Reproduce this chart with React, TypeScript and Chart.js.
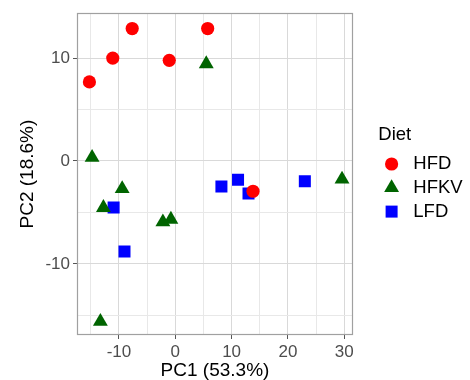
import React, { useEffect, useRef } from 'react';
import { Chart, registerables } from 'chart.js';

Chart.register(...registerables);

// ---- data ----
const groups = ['HFD', 'HFKV', 'LFD'];
const groupColors = ['#FF0000', '#006400', '#0000FF'];
const hfdPC1 = [-15.25, -11.1, -7.65, -1.07, 5.75, 13.8];
const hfdPC2 = [7.68, 10.0, 12.87, 9.78, 12.87, -2.94];
const hfkvPC1 = [5.5, -14.77, -9.43, -12.76, -2.2, -0.78, -13.3, 29.6];
const hfkvPC2 = [9.44, 0.34, -2.7, -4.54, -5.93, -5.67, -15.6, -1.78];
const lfdPC1 = [-10.95, -9.02, 8.19, 11.14, 13.0, 23.0];
const lfdPC2 = [-4.52, -8.8, -2.47, -1.83, -3.15, -1.98];
const xTicks = [-10, 0, 10, 20, 30];
const yTicks = [-10, 0, 10];
const xTitle = 'PC1 (53.3%)';
const yTitle = 'PC2 (18.6%)';
const legendTitle = 'Diet';

const FONT = '"Liberation Sans", Arial, Helvetica, sans-serif';

const toPoints = (xs: number[], ys: number[]) => xs.map((x, i) => ({ x, y: ys[i] }));

const panelBorder = {
  id: 'panelBorder',
  afterDatasetsDraw(chart: any) {
    const { ctx, chartArea } = chart;
    ctx.save();
    ctx.strokeStyle = '#a0a0a0';
    ctx.lineWidth = 1.2;
    const l = Math.round(chartArea.left) + 0.5;
    const t = Math.round(chartArea.top) + 0.5;
    const r = Math.round(chartArea.right) - 0.5;
    const b = Math.round(chartArea.bottom) - 0.5;
    ctx.strokeRect(l, t, r - l, b - t);
    ctx.restore();
  },
};

const dietLegend = {
  id: 'dietLegend',
  afterDraw(chart: any) {
    const ctx = chart.ctx;
    const x0 = 378.3;
    const yTitleC = 135;
    ctx.save();
    ctx.fillStyle = '#000';
    ctx.textBaseline = 'middle';
    ctx.textAlign = 'left';
    ctx.font = `18.5px ${FONT}`;
    ctx.fillText(legendTitle, x0, yTitleC);
    chart.data.datasets.forEach((ds: any, i: number) => {
      const cy = 164 + i * 23.8;
      const cx = x0 + 13.3;
      ctx.fillStyle = ds.backgroundColor;
      ctx.beginPath();
      if (ds.pointStyle === 'circle') {
        ctx.arc(cx, cy, 6.6, 0, Math.PI * 2);
      } else if (ds.pointStyle === 'triangle') {
        const r = 8.6;
        ctx.moveTo(cx, cy - r);
        ctx.lineTo(cx + r * Math.sin((2 * Math.PI) / 3), cy - r * Math.cos((2 * Math.PI) / 3));
        ctx.lineTo(cx + r * Math.sin((4 * Math.PI) / 3), cy - r * Math.cos((4 * Math.PI) / 3));
        ctx.closePath();
      } else {
        ctx.rect(cx - 6, cy - 6, 12, 12);
      }
      ctx.fill();
      ctx.fillStyle = '#000';
      ctx.fillText(ds.label, x0 + 35, cy);
    });
    ctx.restore();
  },
};

export default function App() {
  const ref = useRef<HTMLCanvasElement>(null);
  useEffect(() => {
    document.body.style.margin = '0';
    const isMajorX = (v: number) => xTicks.includes(v);
    const isMajorY = (v: number) => yTicks.includes(v);
    const chart = new Chart(ref.current as HTMLCanvasElement, {
      type: 'scatter',
      data: {
        datasets: [
          {
            label: groups[0],
            data: toPoints(hfdPC1, hfdPC2),
            backgroundColor: groupColors[0],
            borderColor: groupColors[0],
            pointStyle: 'circle',
            pointRadius: 6.6,
            pointBorderWidth: 0,
          },
          {
            label: groups[1],
            data: toPoints(hfkvPC1, hfkvPC2),
            backgroundColor: groupColors[1],
            borderColor: groupColors[1],
            pointStyle: 'triangle',
            pointRadius: 8.6,
            pointBorderWidth: 0,
          },
          {
            label: groups[2],
            data: toPoints(lfdPC1, lfdPC2),
            backgroundColor: groupColors[2],
            borderColor: groupColors[2],
            pointStyle: 'rect',
            pointRadius: 8.5,
            pointBorderWidth: 0,
          },
        ] as any,
      },
      options: {
        animation: false,
        responsive: false,
        maintainAspectRatio: false,
        layout: { padding: { top: 12, right: 117, bottom: 0, left: 0 } },
        plugins: { legend: { display: false }, tooltip: { enabled: false } },
        scales: {
          x: {
            type: 'linear',
            min: -17.45,
            max: 31.55,
            afterFit: (s: any) => {
              s.height = 45;
            },
            ticks: {
              stepSize: 5,
              includeBounds: false,
              autoSkip: false,
              maxRotation: 0,
              color: '#4d4d4d',
              padding: 3,
              font: { family: FONT, size: 17 },
              callback: (v: any) => (isMajorX(Number(v)) ? String(v) : ''),
            },
            grid: {
              color: (c: any) => (c.tick && isMajorX(c.tick.value) ? '#d9d9d9' : '#e8e8e8'),
              tickColor: (c: any) => (c.tick && isMajorX(c.tick.value) ? '#555555' : 'rgba(0,0,0,0)'),
              tickLength: 4,
              lineWidth: 1,
            },
            border: { display: false },
            title: {
              display: true,
              text: xTitle,
              color: '#000',
              font: { family: FONT, size: 19, lineHeight: 1 },
              padding: { top: 0, bottom: 0 },
            },
          },
          y: {
            type: 'linear',
            min: -16.91,
            max: 14.36,
            afterFit: (s: any) => {
              s.width = 77;
            },
            ticks: {
              stepSize: 5,
              includeBounds: false,
              autoSkip: false,
              color: '#4d4d4d',
              padding: 3,
              font: { family: FONT, size: 17 },
              callback: (v: any) => (isMajorY(Number(v)) ? String(v) : ''),
            },
            grid: {
              color: (c: any) => (c.tick && isMajorY(c.tick.value) ? '#d9d9d9' : '#e8e8e8'),
              tickColor: (c: any) => (c.tick && isMajorY(c.tick.value) ? '#555555' : 'rgba(0,0,0,0)'),
              tickLength: 4,
              lineWidth: 1,
            },
            border: { display: false },
            title: {
              display: true,
              text: yTitle,
              color: '#000',
              font: { family: FONT, size: 19, lineHeight: 1 },
              padding: { top: 18, bottom: 0 },
            },
          },
        },
      } as any,
      plugins: [panelBorder, dietLegend],
    });
    return () => chart.destroy();
  }, []);
  return <canvas ref={ref} width={470} height={380} style={{ display: 'block' }} />;
}
